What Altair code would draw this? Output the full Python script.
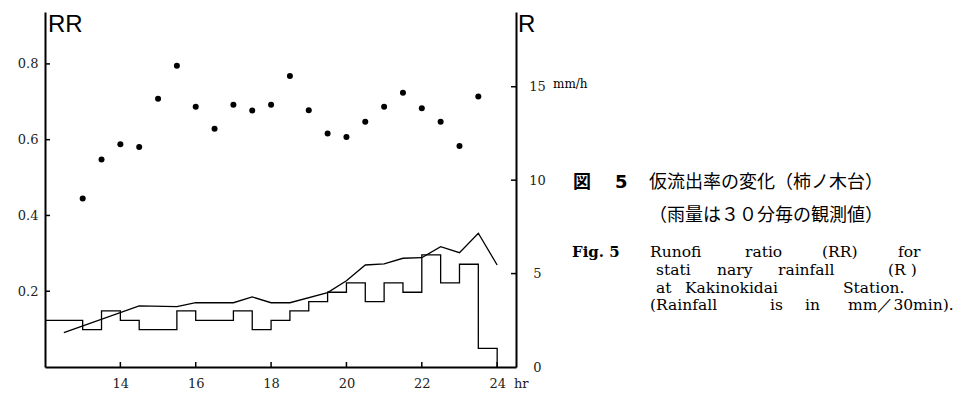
import altair as alt
import pandas as pd

# ---------------- data ----------------
rr_hours = [13.0, 13.5, 14.0, 14.5, 15.0, 15.5, 16.0, 16.5, 17.0, 17.5, 18.0,
            18.5, 19.0, 19.5, 20.0, 20.5, 21.0, 21.5, 22.0, 22.5, 23.0, 23.5]
rr_values = [0.445, 0.548, 0.588, 0.581, 0.708, 0.795, 0.687, 0.629, 0.692, 0.677, 0.692,
             0.768, 0.678, 0.616, 0.607, 0.647, 0.687, 0.724, 0.683, 0.647, 0.583, 0.714]

rain_hours = [12.0, 12.5, 13.0, 13.5, 14.0, 14.5, 15.0, 15.5, 16.0, 16.5, 17.0, 17.5,
              18.0, 18.5, 19.0, 19.5, 20.0, 20.5, 21.0, 21.5, 22.0, 22.5, 23.0, 23.5, 24.0]
rain_values = [2.5, 2.5, 2.0, 3.0, 2.5, 2.0, 2.0, 3.0, 2.5, 2.5, 3.0, 2.0,
               2.5, 3.0, 3.5, 4.0, 4.5, 3.5, 4.5, 4.0, 6.0, 4.5, 5.5, 1.0, 0.0]

est_hours = [12.5, 14.5, 15.5, 16.0, 17.0, 17.5, 18.0, 18.5, 19.5, 20.0,
             20.5, 21.0, 21.5, 22.0, 22.5, 23.0, 23.5, 24.0]
est_values = [1.84, 3.27, 3.23, 3.44, 3.44, 3.75, 3.44, 3.44, 3.98, 4.62,
              5.46, 5.52, 5.82, 5.85, 6.44, 6.12, 7.16, 5.46]

x_ticks = [14, 16, 18, 20, 22, 24]
rr_ticks = [0.2, 0.4, 0.6, 0.8]
r_ticks = [0, 5, 10, 15]
r_inner_ticks = [5, 10, 15]

jp_caption = ["図", "5", "仮流出率の変化（柿ノ木台）", "（雨量は３０分毎の観測値）"]
en_fig = "Fig. 5"
en_lines = [
    ["Runofi", "ratio", "(RR)", "for"],
    ["stati", "nary", "rainfall", "(R )"],
    ["at", "Kakinokidai", "Station."],
    ["(Rainfall", "is", "in", "mm／30min)."],
]

# ---------------- layout ----------------
W, H = 471, 355
TICKFONT = "DejaVu Serif"
SERIF = "DejaVu Serif"
JP = "Noto Sans CJK JP"

xs = alt.Scale(domain=[12, 24.5], nice=False, zero=False)
ys_rr = alt.Scale(domain=[0, 0.937], nice=False, zero=False)
ys_r = alt.Scale(domain=[0, 19.0], nice=False, zero=False)

axis_common = dict(domain=True, domainColor="black", domainWidth=2, ticks=False,
                   grid=False, labelFont=TICKFONT, labelFontSize=13,
                   labelColor="#222222")

x_axis = alt.Axis(values=x_ticks, format="d", labelPadding=10, **axis_common)


def xenc(field):
    return alt.X(field, scale=xs, title="", axis=x_axis)


df_rr = pd.DataFrame({"h": rr_hours, "rr": rr_values})
df_rain = pd.DataFrame({"h": rain_hours, "r": rain_values})
df_est = pd.DataFrame({"h": est_hours, "r": est_values})

dots = alt.Chart(df_rr).mark_circle(size=36, color="black", opacity=1).encode(
    x=xenc("h:Q"),
    y=alt.Y("rr:Q", scale=ys_rr, title="",
            axis=alt.Axis(orient="left", values=rr_ticks, format=".1f",
                          labelPadding=7, **axis_common)),
)

left_ticks = alt.Chart(pd.DataFrame({"v": rr_ticks})).mark_rule(
    color="black", strokeWidth=1.5).encode(
    y=alt.Y("v:Q", scale=ys_rr, axis=None), x=alt.value(0), x2=alt.value(5))

bottom_ticks = alt.Chart(pd.DataFrame({"h": x_ticks})).mark_rule(
    color="black", strokeWidth=1.5).encode(
    x=xenc("h:Q"), y=alt.value(H), y2=alt.value(H - 5))

step = alt.Chart(df_rain).mark_line(
    interpolate="step-after", color="black", strokeWidth=1.3).encode(
    x=xenc("h:Q"),
    y=alt.Y("r:Q", scale=ys_r, title="",
            axis=alt.Axis(orient="right", values=r_ticks, format="d",
                          labelPadding=21, labelAlign="center", **axis_common)),
)

est = alt.Chart(df_est).mark_line(color="black", strokeWidth=1.3).encode(
    x=xenc("h:Q"),
    y=alt.Y("r:Q", scale=ys_r, axis=None),
)

right_ticks = alt.Chart(pd.DataFrame({"v": r_inner_ticks})).mark_rule(
    color="black", strokeWidth=1.5).encode(
    y=alt.Y("v:Q", scale=ys_r, axis=None), x=alt.value(W), x2=alt.value(W - 5))


def label(text, x, y, size, font, weight="normal", align="left", baseline="middle",
          color="black"):
    return alt.Chart(pd.DataFrame({"t": [text]})).mark_text(
        align=align, baseline=baseline, font=font, fontSize=size,
        fontWeight=weight, color=color).encode(
        x=alt.value(x), y=alt.value(y), text="t:N")


texts = [
    label("RR", 3, 20, 24, "Liberation Sans", baseline="alphabetic"),
    label("R", 473, 20, 24, "Liberation Sans", baseline="alphabetic"),
    label("mm/h", 508, 72, 12, SERIF),
    label("hr", 469, 372, 13, TICKFONT, color="#222222"),
    label(jp_caption[0], 528, 171, 18, JP, weight="bold"),
    label(jp_caption[1], 570, 171, 18, "DejaVu Sans", weight="bold"),
    label(jp_caption[2], 604, 171, 18, JP),
    label(jp_caption[3], 604, 204, 18, JP),
    label(en_fig, 527, 240, 15, SERIF, weight="bold"),
]

word_x = [
    [605, 700, 777, 853],
    [611, 672, 733, 843],
    [611, 640, 798],
    [605, 725, 760, 803],
]
line_y = [240, 258, 276, 293]
for words, xs_line, yy in zip(en_lines, word_x, line_y):
    for w, xx in zip(words, xs_line):
        texts.append(label(w, xx, yy, 15.5, SERIF))

chart = alt.layer(
    dots, left_ticks, bottom_ticks, step, est, right_ticks, *texts
).resolve_scale(y="independent").properties(
    width=W, height=H,
    autosize=alt.AutoSizeParams(type="none"),
    padding={"left": 37, "top": 4, "right": 440, "bottom": 25},
).configure_view(stroke=None)

chart.save("out.html", embed_options={"renderer": "svg", "actions": False})
